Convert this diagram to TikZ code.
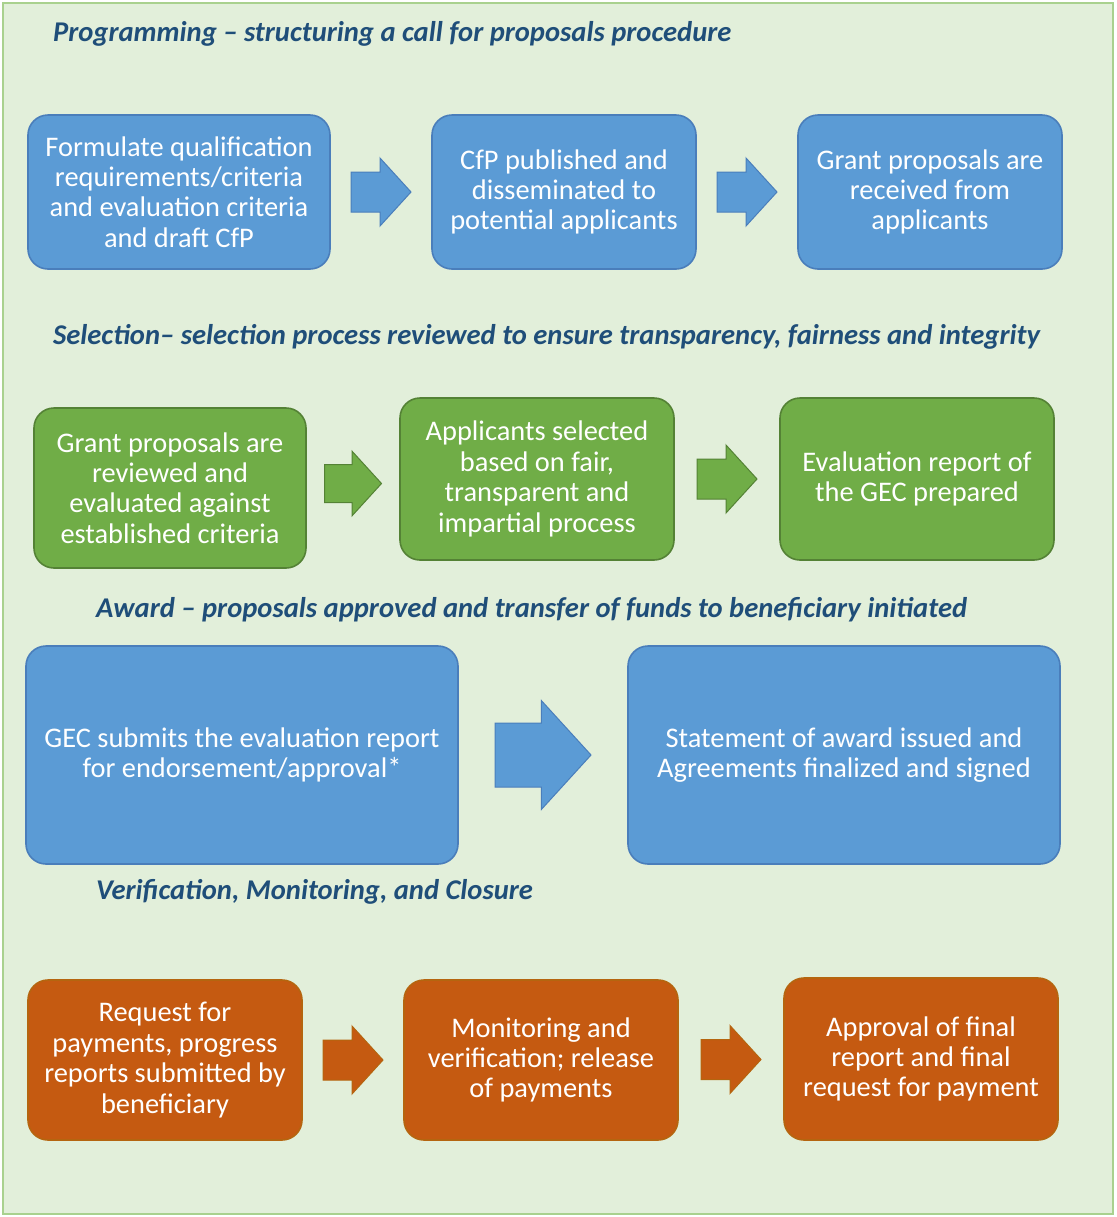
\documentclass[tikz,border=0pt]{standalone}
\usepackage{fontspec}
\setmainfont{Carlito}
\usepackage{tikz}
\usetikzlibrary{calc,positioning}
\definecolor{panelfill}{HTML}{E2EFDA}
\definecolor{paneledge}{HTML}{A9D18E}
\definecolor{headblue}{HTML}{1F4E79}
\definecolor{boxblue}{HTML}{5B9BD5}
\definecolor{edgeblue}{HTML}{4A7EBB}
\definecolor{boxgreen}{HTML}{70AD47}
\definecolor{edgegreen}{HTML}{548235}
\definecolor{boxorange}{HTML}{C55A11}
\definecolor{edgeorange}{HTML}{B5650F}

% block arrow between two boxes: colour, from, to, size factor
\newcommand{\flowarrow}[4]{%
  \filldraw[flowarrow=#1] ($(#2.east)!0.5!(#3.west)$)
    ++(-30*#4,-20*#4) -- ++(29*#4,0) -- ++(0,-14*#4) -- ++(31*#4,34*#4)
    -- ++(-31*#4,34*#4) -- ++(0,-14*#4) -- ++(-29*#4,0) -- cycle;}

\begin{document}
\begin{tikzpicture}[
  x=0.5pt, y=-0.5pt,
  every node/.style={font=\fontsize{14.2}{15.2}\selectfont},
  stagebox/.style={rounded corners=10pt, line width=0.8pt, text=white,
    align=center, inner sep=2pt},
  bluebox/.style={stagebox, fill=boxblue, draw=edgeblue},
  greenbox/.style={stagebox, fill=boxgreen, draw=edgegreen},
  orangebox/.style={stagebox, fill=boxorange, draw=edgeorange},
  heading/.style={anchor=west, text=headblue,
    font=\fontsize{14.3}{15.2}\selectfont\bfseries\itshape},
  flowarrow/.style={fill=box#1, draw=edge#1, line width=0.5pt}
]

% --- Hintergrund ---
\useasboundingbox (0,0) rectangle (1116,1217);
\fill[white] (0,0) rectangle (1116,1217);
\filldraw[fill=panelfill, draw=paneledge, line width=1.2pt]
  (3,3) rectangle (1113,1214);

% --- Programming ---
\node[heading] (hprog) at (46,34)
  {Programming -- structuring a call for proposals procedure};

\node[bluebox, minimum width=151pt, minimum height=77pt] (formulate) at (179,192)
  {Formulate qualification\\requirements/criteria\\and evaluation criteria\\and draft CfP};
\node[bluebox, minimum width=132pt, minimum height=77pt] (publish) at (564,192)
  {CfP published and\\disseminated to\\potential applicants};
\node[bluebox, minimum width=132pt, minimum height=77pt] (receive) at (930,192)
  {Grant proposals are\\received from\\applicants};

% --- Selection ---
\node[heading] (hsel) at (46,337)
  {Selection-- selection process reviewed to ensure transparency, fairness and integrity};

\node[greenbox, minimum width=136pt, minimum height=80pt] (review) at (170,488)
  {Grant proposals are\\reviewed and\\evaluated against\\established criteria};
\node[greenbox, minimum width=137pt, minimum height=81pt] (select) at (537,479)
  {Applicants selected\\based on fair,\\transparent and\\impartial process};
\node[greenbox, minimum width=137pt, minimum height=81pt] (report) at (917,479)
  {Evaluation report of\\the GEC prepared};

% --- Award ---
\node[heading] (haward) at (89,610)
  {Award -- proposals approved and transfer of funds to beneficiary initiated};

\node[bluebox, minimum width=216pt, minimum height=109pt] (submit) at (242,755)
  {GEC submits the evaluation report\\for endorsement/approval*};
\node[bluebox, minimum width=216pt, minimum height=109pt] (statement) at (844,755)
  {Statement of award issued and\\Agreements finalized and signed};

% --- Verification ---
\node[heading] (hver) at (89,892)
  {Verification, Monitoring, and Closure};

\node[orangebox, minimum width=137pt, minimum height=80pt] (request) at (165,1060)
  {Request for\\payments, progress\\reports submitted by\\beneficiary};
\node[orangebox, minimum width=137pt, minimum height=80pt] (monitor) at (541,1060)
  {Monitoring and\\verification; release\\of payments};
\node[orangebox, minimum width=137pt, minimum height=81pt] (approve) at (921,1059)
  {Approval of final\\report and final\\request for payment};

% --- Pfeile ---
\flowarrow{blue}{formulate}{publish}{1}
\flowarrow{blue}{publish}{receive}{1}
\flowarrow{green}{review}{select}{0.95}
\flowarrow{green}{select}{report}{1}
\flowarrow{blue}{submit}{statement}{1.6}
\flowarrow{orange}{request}{monitor}{1}
\flowarrow{orange}{monitor}{approve}{1}

\end{tikzpicture}
\end{document}
